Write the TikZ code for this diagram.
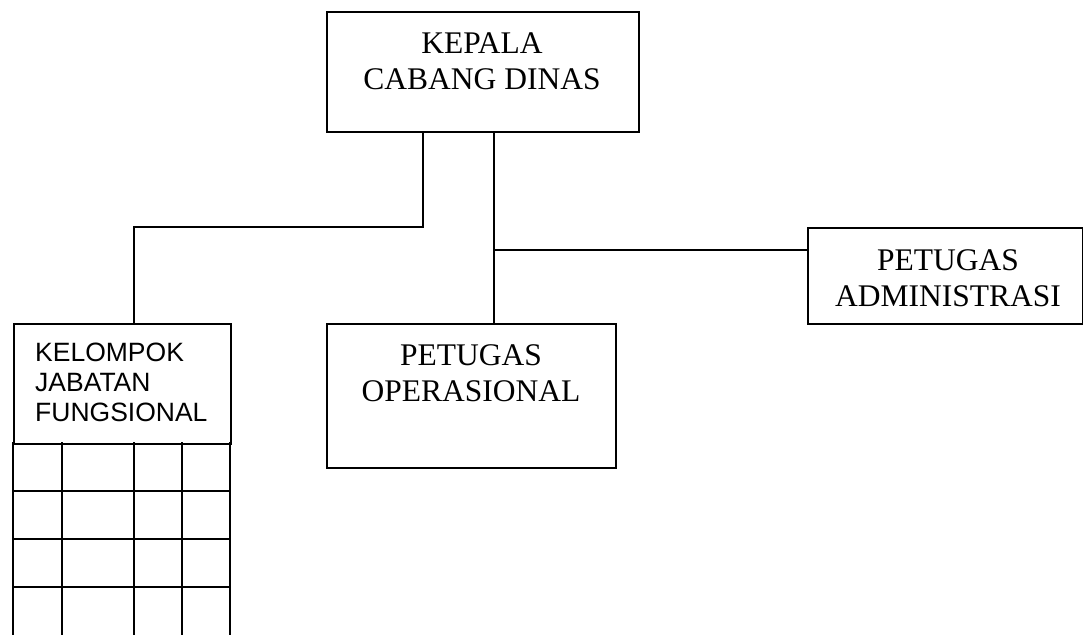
\documentclass[tikz,border=0pt]{standalone}
\usepackage{fontspec}
\setmainfont{Liberation Serif}
\newfontfamily\arialfont{Liberation Sans}
\begin{document}
\begin{tikzpicture}[x=1pt,y=-1pt,
  ln/.style={line width=1.8pt,line cap=rect},
  boxnode/.style={draw,line width=1.8pt,anchor=north west,inner sep=0pt},
  sertext/.style={font=\fontsize{31.5}{36}\selectfont,align=center,inner sep=0pt},
  santext/.style={font=\arialfont\fontsize{26.5}{30}\selectfont,align=left,inner sep=0pt}]
\useasboundingbox (0,0) rectangle (1083,634);
% boxes
\node[boxnode,minimum width=312pt,minimum height=120pt] (kepala) at (326,11) {};
\node[boxnode,minimum width=289pt,minimum height=144pt] (oper) at (326,323) {};
\node[boxnode,minimum width=275pt,minimum height=96pt] (admin) at (807,227) {};
\node[boxnode,minimum width=217pt,minimum height=120pt] (kel) at (13,323) {};
% texts
\node[sertext] (kepalaT) at (482,61) {KEPALA\\CABANG DINAS};
\node[sertext] (operT) at (471,373) {PETUGAS\\OPERASIONAL};
\node[sertext] (adminT) at (948,278) {PETUGAS\\ADMINISTRASI};
\node[santext,anchor=west] (kelT) at (35,382) {KELOMPOK\\JABATAN\\FUNGSIONAL};
% connectors
\coordinate (bendR) at (423,227);
\coordinate (bendL) at (134,227);
\coordinate (stem) at (494,250);
\draw[ln] (kepala.south -| bendR) -- (bendR) -- (bendL) -- (kel.north -| bendL);
\draw[ln] (kepala.south -| stem) -- (oper.north -| stem);
\draw[ln] (stem) -- (admin.west |- stem);
% grid below kelompok
\foreach \y in {491,539,587} \draw[ln] (13,\y) -- (230,\y);
\foreach \x in {13,62,134,182,230} \draw[ln] (\x,443) -- (\x,640);
\end{tikzpicture}
\end{document}
